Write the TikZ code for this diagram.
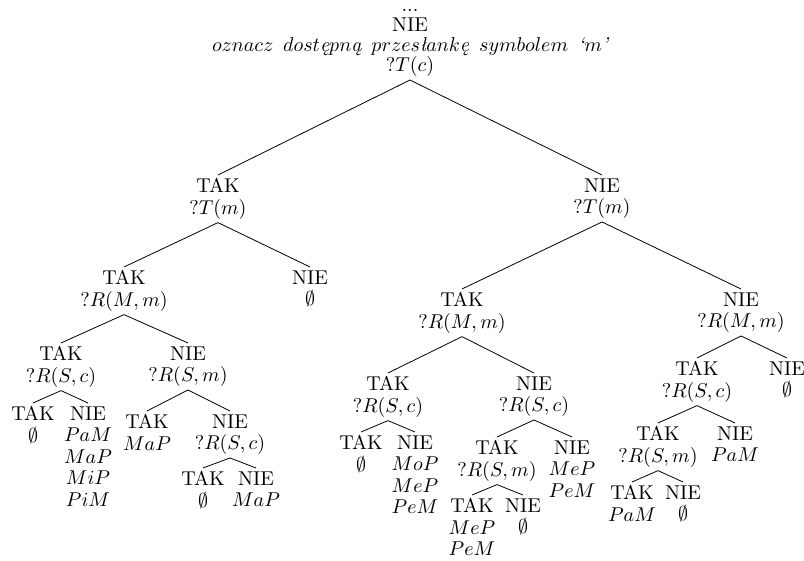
\documentclass[tikz,border=0pt]{standalone}
\usetikzlibrary{positioning}

\newcommand{\pl}[1]{\mbox{\itshape #1}}

\begin{document}
\begin{tikzpicture}[x=0.5pt, y=-0.5pt]

\tikzset{state/.style = {align=center, inner sep=1.5pt, anchor=north, font=\fontsize{10}{10.75}\selectfont}}
\tikzset{branch/.style = {line width=0.4pt}}
\useasboundingbox (0,0) rectangle (804,561);
%verticies
\node[state, anchor=south, font=\fontsize{10}{10}\selectfont] (1) at (410,80) {...\\NIE\\$oznacz\ \,dost\pl{ę}pn\pl{ą}\ \,przes\pl{ł}ank\pl{ę}\ \,symbolem\ \,\pl{‘}m\pl{’}$\\$?T(c)$};
\node[state] (2) at (218,175) {TAK\\$?T(m)$};
\node[state] (3) at (602,175) {NIE\\$?T(m)$};
\node[state] (4) at (124,267) {TAK\\$?R(M,m)$};
\node[state] (5) at (310,267) {NIE\\$\emptyset$};
\node[state] (6) at (61,343) {TAK\\$?R(S,c)$};
\node[state] (7) at (188,343) {NIE\\$?R(S,m)$};
\node[state] (8) at (33,403) {TAK\\$\emptyset$};
\node[state] (9) at (88,403) {NIE\\$PaM$\\$MaP$\\$MiP$\\$PiM$};
\node[state] (10) at (147,411) {TAK\\$MaP$};
\node[state] (11) at (230,411) {NIE\\$?R(S,c)$};
\node[state] (12) at (203,468) {TAK\\$\emptyset$};
\node[state] (13) at (256,468) {NIE\\$MaP$};
\node[state] (14) at (462,289) {TAK\\$?R(M,m)$};
\node[state] (15) at (741,289) {NIE\\$?R(M,m)$};
\node[state] (16) at (388,373) {TAK\\$?R(S,c)$};
\node[state] (17) at (534,373) {NIE\\$?R(S,c)$};
\node[state] (18) at (361,432) {TAK\\$\emptyset$};
\node[state] (19) at (415,432) {NIE\\$MoP$\\$MeP$\\$PeM$};
\node[state] (20) at (497,437) {TAK\\$?R(S,m)$};
\node[state] (21) at (572,437) {NIE\\$MeP$\\$PeM$};
\node[state] (22) at (472,495) {TAK\\$MeP$\\$PeM$};
\node[state] (23) at (523,495) {NIE\\$\emptyset$};
\node[state] (24) at (697,358) {TAK\\$?R(S,c)$};
\node[state] (25) at (787,358) {NIE\\$\emptyset$};
\node[state] (26) at (658,423) {TAK\\$?R(S,m)$};
\node[state] (27) at (735,423) {NIE\\$PaM$};
\node[state] (28) at (632,482) {TAK\\$PaM$};
\node[state] (29) at (683,482) {NIE\\$\emptyset$};
%edges
\draw [branch] (1.south) -- (2.north);
\draw [branch] (1.south) -- (3.north);
\draw [branch] (2.south) -- (4.north);
\draw [branch] (2.south) -- (5.north);
\draw [branch] (4.south) -- (6.north);
\draw [branch] (4.south) -- (7.north);
\draw [branch] (6.south) -- (8.north);
\draw [branch] (6.south) -- (9.north);
\draw [branch] (7.south) -- (10.north);
\draw [branch] (7.south) -- (11.north);
\draw [branch] (11.south) -- (12.north);
\draw [branch] (11.south) -- (13.north);
\draw [branch] (3.south) -- (14.north);
\draw [branch] (3.south) -- (15.north);
\draw [branch] (14.south) -- (16.north);
\draw [branch] (14.south) -- (17.north);
\draw [branch] (16.south) -- (18.north);
\draw [branch] (16.south) -- (19.north);
\draw [branch] (17.south) -- (20.north);
\draw [branch] (17.south) -- (21.north);
\draw [branch] (20.south) -- (22.north);
\draw [branch] (20.south) -- (23.north);
\draw [branch] (15.south) -- (24.north);
\draw [branch] (15.south) -- (25.north);
\draw [branch] (24.south) -- (26.north);
\draw [branch] (24.south) -- (27.north);
\draw [branch] (26.south) -- (28.north);
\draw [branch] (26.south) -- (29.north);

\end{tikzpicture}
\end{document}
